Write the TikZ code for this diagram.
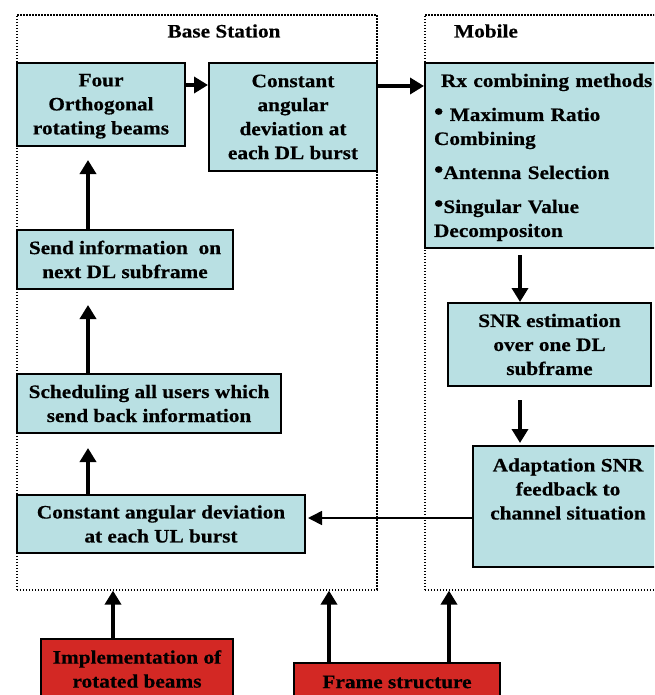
\documentclass[tikz,border=0pt]{standalone}
\usepackage{fontspec}
\setmainfont{Liberation Serif}[FakeStretch=1.12, BoldFeatures={FakeBold=0.5}]
\usetikzlibrary{arrows.meta}
\definecolor{boxcyan}{RGB}{185,224,227}
\definecolor{boxred}{RGB}{211,40,36}
\newcommand{\mybul}{\raisebox{1.5pt}{\fontsize{24}{24}\selectfont\textbullet}}
\begin{document}
\begin{tikzpicture}[x=1pt,y=-1pt,
  txt/.style={font=\fontsize{19}{24}\selectfont\bfseries, align=center, inner sep=0pt},
  flow/.style={txt, draw=black, line width=2pt, fill=boxcyan, anchor=north west},
  redbox/.style={flow, fill=boxred},
  group/.style={draw=black, line width=1.6pt, dash pattern=on 1.6pt off 1.4pt, anchor=north west, inner sep=0pt},
  arr/.style={line width=4pt, -{Triangle[length=14pt,width=16pt]}},
  thinarr/.style={line width=1.6pt, -{Triangle[length=14pt,width=14pt]}}]
\clip (0,0) rectangle (654,695);
\fill[white] (0,0) rectangle (654,695);

% groups
\node[group, minimum width=360pt, minimum height=575pt] (bs) at (16,14) {};
\node[group, minimum width=300pt, minimum height=575pt] (mob) at (424,14) {};
\node[txt] (bslabel) at (224,31) {Base Station};
\node[txt] (moblabel) at (486,31) {Mobile};

% base station boxes
\node[flow, minimum width=168pt, minimum height=83pt] (four) at (16,62) {\rule{0pt}{16pt}Four\\Orthogonal\\rotating beams};
\node[flow, minimum width=168pt, minimum height=108pt] (constDL) at (208,62) {Constant\\angular\\deviation at\\each DL burst};
\node[flow, minimum width=216pt, minimum height=59pt] (sendinfo) at (16,229) {Send information\ \ on\\next DL subframe};
\node[flow, minimum width=264pt, minimum height=59pt] (sched) at (16,373) {Scheduling all users which\\send back information};
\node[flow, minimum width=288pt, minimum height=58pt] (constUL) at (16,494) {Constant angular deviation\\at each UL burst};

% mobile boxes
\node[flow, minimum width=240pt, minimum height=185pt, align=left, text width=222pt, inner xsep=9pt] (rx) at (424,62)
  {\hspace*{7pt}\rule{0pt}{17pt}Rx combining methods\\[10pt]
   \mybul\ Maximum Ratio\\
   Combining\\[10pt]
   \mybul Antenna Selection\\[10pt]
   \mybul Singular Value\\
   Decompositon};
\node[flow, minimum width=203pt, minimum height=83pt] (snr) at (447,302) {SNR estimation\\over one DL\\subframe};
\node[flow, minimum width=190pt, minimum height=121pt] (adapt) at (472,445) {};
\node[txt] (adapttext) at (568,489) {Adaptation SNR\\feedback to\\channel situation};

% red boxes
\node[redbox, minimum width=192pt, minimum height=60pt] (impl) at (40,638) {Implementation of\\rotated beams};
\node[redbox, minimum width=206pt, minimum height=38pt] (frame) at (293,662) {Frame structure};

% connectors
\draw[arr] ([yshift=-23pt]four.north east) -- ([yshift=-23pt]constDL.north west);
\draw[arr] ([yshift=-24pt]constDL.north east) -- ([yshift=-24pt]rx.north west);
\draw[arr] ([xshift=72pt]sendinfo.north west) -- ([xshift=72pt,yshift=-13pt]four.south west);
\draw[arr] ([xshift=72pt]sched.north west) -- ([xshift=72pt,yshift=-15pt]sendinfo.south west);
\draw[arr] ([xshift=72pt]constUL.north west) -- ([xshift=72pt,yshift=-14pt]sched.south west);
\draw[arr] ([xshift=96pt,yshift=-6pt]rx.south west) -- ([xshift=73pt]snr.north west);
\draw[arr] ([xshift=73pt,yshift=-13pt]snr.south west) -- ([xshift=48pt,yshift=2pt]adapt.north west);
\draw[thinarr] ([yshift=-73pt]adapt.north west) -- ([xshift=2pt,yshift=-24pt]constUL.north east);
\draw[arr] ([xshift=-24pt]impl.north) -- ([xshift=-24pt]impl.north |- bs.south);
\draw[arr] ([xshift=-68pt]frame.north) -- ([xshift=-68pt]frame.north |- bs.south);
\draw[arr] ([xshift=52pt]frame.north) -- ([xshift=52pt]frame.north |- mob.south);
\end{tikzpicture}
\end{document}
